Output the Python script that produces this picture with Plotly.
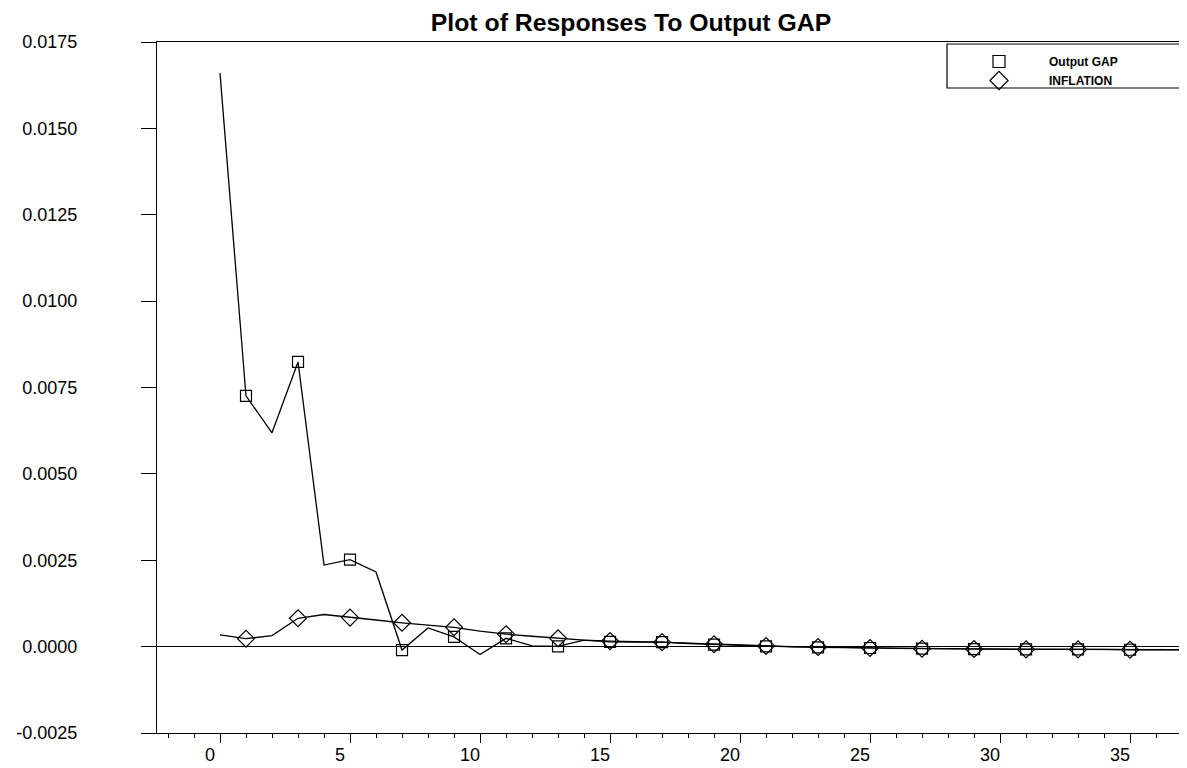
import plotly.graph_objects as go

# ---- data ----
steps = list(range(0, 38))
output_gap = [0.0166, 0.00726, 0.00619, 0.00824, 0.00236, 0.00252, 0.00216, -0.0001,
              0.00054, 0.00028, -0.00023, 0.00024, 0.00002, 0.00001, 0.00019, 0.00014,
              0.00013, 0.00013, 0.00009, 0.00006, 0.00003, 0.00001, -0.00001, -0.00002,
              -0.00003, -0.00004, -0.00005, -0.00006, -0.00006, -0.00007, -0.00007, -0.00008,
              -0.00008, -0.00008, -0.00008, -0.00009, -0.00009, -0.00009]
inflation = [0.00034, 0.00023, 0.00032, 0.00082, 0.00093, 0.00084, 0.00077, 0.00069,
             0.00062, 0.00056, 0.00045, 0.00036, 0.0003, 0.00024, 0.00019, 0.00016,
             0.00015, 0.00013, 0.0001, 0.00007, 0.00004, 0.00002, 0.0, -0.00001,
             -0.00003, -0.00004, -0.00005, -0.00006, -0.00006, -0.00007, -0.00007, -0.00008,
             -0.00008, -0.00008, -0.00008, -0.00009, -0.00009, -0.00009]
series_names = ["Output GAP", "INFLATION"]
title_text = "Plot of Responses To Output GAP"
y_tick_values = [-0.0025, 0.0, 0.0025, 0.005, 0.0075, 0.01, 0.0125, 0.015, 0.0175]
y_tick_labels = ["-0.0025", "0.0000", "0.0025", "0.0050", "0.0075", "0.0100",
                 "0.0125", "0.0150", "0.0175"]

# markers are drawn on every other step (odd steps up to 35)
mk = slice(1, 36, 2)

FONT = "Liberation Sans, Arial, sans-serif"
fig = go.Figure()

fig.add_trace(go.Scatter(x=steps, y=output_gap, mode="lines",
                         line=dict(color="black", width=1.3), showlegend=False))
fig.add_trace(go.Scatter(x=steps[mk], y=output_gap[mk], mode="markers",
                         marker=dict(symbol="square-open", size=11, color="black",
                                     line=dict(width=1.2)), showlegend=False))
fig.add_trace(go.Scatter(x=steps, y=inflation, mode="lines",
                         line=dict(color="black", width=1.3), showlegend=False))
fig.add_trace(go.Scatter(x=steps[mk], y=inflation[mk], mode="markers",
                         marker=dict(symbol="diamond-open", size=13, color="black",
                                     line=dict(width=1.2)), showlegend=False))

# legend entries (symbol only)
fig.add_trace(go.Scatter(x=[None], y=[None], mode="markers", name="<b>" + series_names[0] + "</b>",
                         marker=dict(symbol="square-open", size=12, color="black",
                                     line=dict(width=1.2))))
fig.add_trace(go.Scatter(x=[None], y=[None], mode="markers", name="<b>" + series_names[1] + "</b>",
                         marker=dict(symbol="diamond-open", size=14, color="black",
                                     line=dict(width=1.2))))

# the page body adds an 8px offset, so the figure is 8px smaller
W, H = 1179, 760
L, R, T, B = 149, 0, 34, 35
pw = W - L - R
ph = H - T - B

fig.update_layout(
    width=W, height=H,
    margin=dict(l=L, r=R, t=T, b=B, autoexpand=False),
    paper_bgcolor="white", plot_bgcolor="white",
    font=dict(family=FONT, color="black"),
    title=dict(text="<b>" + title_text + "</b>", x=623 / W, xanchor="center",
               xref="container", y=1 - 14 / H, yanchor="middle", yref="container",
               font=dict(size=24.8, family=FONT, color="black")),
    showlegend=True,
    legend=dict(x=(941 - L) / pw, y=1 - (39 - T) / ph, xanchor="left", yanchor="top",
                bgcolor="rgba(0,0,0,0)", borderwidth=0, itemwidth=90,
                font=dict(size=12, family=FONT, color="black"), tracegroupgap=0),
    shapes=[dict(type="rect", xref="paper", yref="paper",
                 x0=(939 - L) / pw, x1=(1190 - L) / pw,
                 y0=1 - (80 - T) / ph, y1=1 - (36 - T) / ph,
                 line=dict(color="black", width=1.2), fillcolor="white", layer="above")],
)

fig.update_xaxes(range=[-2.423, 37.19], dtick=5, tick0=0, showgrid=False, zeroline=False,
                 showline=True, linecolor="black", linewidth=1.3, mirror=True,
                 ticks="outside", ticklen=9, tickcolor="black", tickwidth=1.2,
                 ticklabelshift=-10, ticklabelstandoff=-4,
                 minor=dict(dtick=1, ticks="outside", ticklen=4, tickcolor="black", showgrid=False),
                 tickfont=dict(size=18, family=FONT, color="black"))
fig.update_yaxes(range=[-0.0025, 0.0175], tickmode="array", tickvals=y_tick_values,
                 ticktext=y_tick_labels,
                 showgrid=False, zeroline=True, zerolinecolor="black", zerolinewidth=1.2,
                 showline=True, linecolor="black", linewidth=1.3,
                 ticks="outside", ticklen=15, tickcolor="black", tickwidth=1.2,
                 ticklabelstandoff=60,
                 tickfont=dict(size=18, family=FONT, color="black"))

fig.write_html("out.html")
